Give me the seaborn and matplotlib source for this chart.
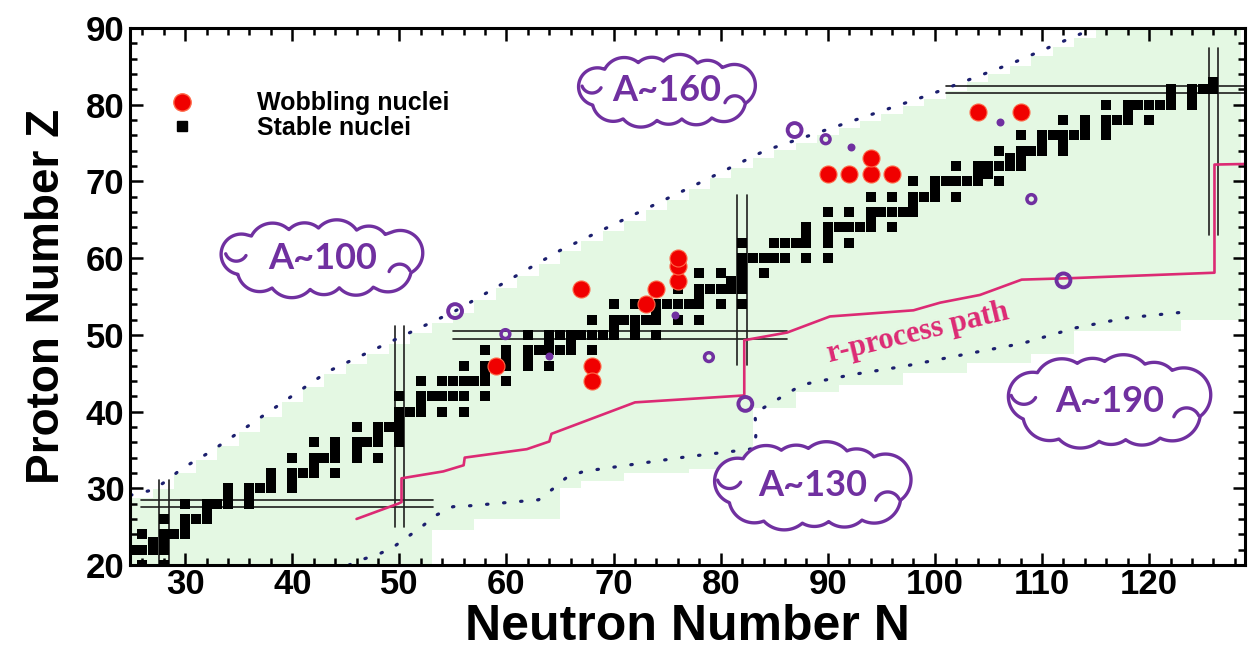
import numpy as np
import pandas as pd
import matplotlib
matplotlib.use("Agg")
import matplotlib.pyplot as plt
from matplotlib.lines import Line2D
from matplotlib.ticker import MultipleLocator
import seaborn as sns

# ---------------- data ----------------
# stable isotopes: proton number and the neutron numbers of its stable isotopes
stable_z = list(range(20, 84))
stable_n = [
    [20, 22, 23, 24, 26, 28], [24], [24, 25, 26, 27, 28], [27, 28], [26, 28, 29, 30],
    [30], [28, 30, 31, 32], [32], [30, 32, 33, 34, 36], [34, 36],
    [34, 36, 37, 38, 40], [38, 40], [38, 40, 41, 42, 44], [42], [40, 42, 43, 44, 46, 48],
    [44, 46], [42, 44, 46, 47, 48, 50], [48, 50], [46, 48, 49, 50], [50],
    [50, 51, 52, 54, 56], [52], [50, 52, 53, 54, 55, 56, 58], [], [52, 54, 55, 56, 57, 58, 60],
    [58], [56, 58, 59, 60, 62, 64], [60, 62], [58, 60, 62, 63, 64, 65, 66, 68], [64, 66],
    [62, 64, 65, 66, 67, 68, 69, 70, 72, 74], [70, 72], [68, 70, 71, 72, 73, 74, 76, 78], [74],
    [70, 72, 74, 75, 76, 77, 78, 80, 82], [78], [74, 76, 78, 79, 80, 81, 82], [81, 82],
    [78, 80, 82, 84], [82], [82, 83, 84, 85, 86, 88, 90], [], [82, 85, 86, 87, 88, 90, 92],
    [88, 90], [88, 90, 91, 92, 93, 94, 96], [94], [90, 92, 94, 95, 96, 97, 98], [98],
    [94, 96, 98, 99, 100, 102], [100], [98, 100, 101, 102, 103, 104, 106], [104, 105],
    [102, 104, 105, 106, 107, 108], [107, 108], [106, 108, 109, 110, 112], [110, 112],
    [108, 110, 111, 112, 113, 114, 116], [114, 116], [112, 114, 116, 117, 118, 120], [118],
    [116, 118, 119, 120, 121, 122, 124], [122, 124], [122, 124, 125, 126], [126],
]

wobbling_n = [59, 67, 68, 68, 73, 74, 76, 76, 76, 90, 92, 94, 94, 96, 104, 108]
wobbling_z = [46, 56, 46, 44, 54, 56, 57, 59, 60, 71, 71, 71, 73, 71, 79, 79]

ring_large_n = [55.2, 82.3, 86.9, 112.0]
ring_large_z = [53.1, 41.0, 76.7, 57.1]
ring_small_n = [59.9, 78.9, 89.8, 109.0]
ring_small_z = [50.1, 47.1, 75.5, 67.7]
dot_small_n = [64.0, 75.7, 92.2, 106.1]
dot_small_z = [47.3, 52.6, 74.5, 77.8]

rprocess_n = [46.0, 49.9, 50.2, 50.2, 54.1, 56.0, 56.1, 61.9, 64.0, 64.2, 72.0, 82.2,
              82.2, 86.2, 90.2, 98.0, 100.5, 104.2, 108.1, 112.9, 126.1, 126.1, 130.0]
rprocess_z = [26.0, 28.0, 28.2, 31.3, 32.2, 33.0, 34.0, 35.1, 36.1, 37.1, 41.2, 42.1,
              49.3, 50.3, 52.4, 53.2, 54.2, 55.2, 57.2, 57.4, 58.1, 72.2, 72.3]

upper_line_n = [24.9, 25.5, 27.0, 28.4, 29.7, 31.1, 32.5, 43.3, 55.2, 65.0, 78.3, 84.1,
                99.5, 107.2, 113.2, 114.9]
upper_line_z = [29.1, 29.3, 29.8, 31.1, 32.6, 33.7, 34.9, 45.2, 53.1, 61.0, 70.0, 74.0,
                81.3, 85.4, 89.0, 90.0]
lower_line_n = [45.3, 46.5, 48.2, 49.4, 50.8, 52.1, 53.3, 55.0, 56.4, 63.0, 64.4, 65.6,
                67.2, 76.8, 81.6, 83.2, 83.3, 83.2, 84.6, 87.6, 92.2, 97.1, 103.3, 108.2,
                113.1, 117.8, 124.2]
lower_line_z = [20.0, 20.7, 21.5, 22.3, 23.7, 25.0, 26.4, 27.6, 27.7, 28.5, 30.0, 31.4,
                32.2, 34.1, 34.9, 35.2, 37.4, 39.8, 41.0, 43.5, 44.8, 45.9, 47.6, 48.9,
                50.9, 52.2, 53.1]

# region of known nuclei (step edges in N, upper and lower Z bound of each step)
known_edges = [24] + list(range(27, 129, 2)) + [128.6]
known_top = [28.7, 29.9, 32.0, 33.7, 35.5, 37.4, 39.3, 41.3, 43.2, 44.9, 46.2, 47.5, 48.8,
             50.2, 51.5, 52.9, 54.5, 56.1, 57.7, 59.2, 60.9, 62.2, 63.6, 64.9, 66.3, 67.6,
             69.0, 70.4, 71.8, 73.1, 74.1, 75.0, 76.0, 76.9, 77.9, 78.8, 79.8, 80.8, 81.8,
             82.9, 84.0, 85.1, 86.3, 87.5, 88.7, 90, 90, 90, 90, 90, 90, 90]
known_bottom = [20] * 14 + [24.5, 24.5, 26, 26, 26, 26, 30, 31, 31, 32, 32, 32,
                            32.5, 32.5, 32.5, 40.5, 40.5, 42.5, 42.5, 43.5, 43.5, 43.5,
                            45, 45, 45, 46.3, 46.3, 46.3, 47.5, 47.5,
                            50.5, 50.5, 50.5, 50.5, 50.5, 52, 52, 52]

# magic numbers: double guide lines
magic_n = [28, 50, 82, 126]
magic_n_zlo = [20.0, 25.0, 46.1, 63.0]
magic_n_zhi = [31.1, 51.1, 68.2, 87.4]
magic_z = [28, 50, 82]
magic_z_nlo = [25.9, 55.0, 101.0]
magic_z_nhi = [53.1, 86.2, 130.0]

cloud_labels = ["A~100", "A~160", "A~130", "A~190"]
cloud_n = [42.8, 75.0, 88.6, 116.3]
cloud_z = [59.9, 81.8, 30.3, 41.3]
cloud_w = [215, 188, 208, 214]
cloud_h = [75, 70, 85, 90]

# ---------------- styling ----------------
sns.set_theme(style="white", rc={"axes.edgecolor": "black", "xtick.color": "black",
                                 "ytick.color": "black", "text.color": "black",
                                 "axes.labelcolor": "black"})
plt.rcParams["font.family"] = ["Liberation Sans", "DejaVu Sans"]

RED = "#f00000"
PURPLE = "#7030a0"
NAVY = "#1c1f6e"
RPATH = "#dc2a74"
GREEN = "#e4f8e3"

W, H, DPI = 12.51, 6.59, 100
fig = plt.figure(figsize=(W, H), dpi=DPI)
ax_rect = [130 / 1251, 94 / 659, 1115 / 1251, 537 / 659]
ax = fig.add_axes(ax_rect)
xmin, xmax, ymin, ymax = 24.85, 128.95, 20, 90
ax.set_xlim(xmin, xmax)
ax.set_ylim(ymin, ymax)
sx = W * DPI * ax_rect[2] / (xmax - xmin)   # pixels per neutron
sy = H * DPI * ax_rect[3] / (ymax - ymin)   # pixels per proton

# known-nuclei region
ax.fill_between(known_edges, known_bottom + [known_bottom[-1]], known_top + [known_top[-1]],
                step="post", color=GREEN, lw=0, zorder=0.5)

# double lines at magic numbers
for n, lo, hi in zip(magic_n, magic_n_zlo, magic_n_zhi):
    for off in (-0.45, 0.45):
        ax.plot([n + off, n + off], [lo, hi], color="#1e1e1e", lw=1.2, zorder=1)
for z, lo, hi in zip(magic_z, magic_z_nlo, magic_z_nhi):
    for off in (-0.5, 0.5):
        ax.plot([lo, hi], [z + off, z + off], color="#1e1e1e", lw=1.2, zorder=1)

# drip-line estimates (round dots)
for xs, ys in ((upper_line_n, upper_line_z), (lower_line_n, lower_line_z)):
    ax.plot(xs, ys, color=NAVY, lw=2.3, linestyle=(0, (0.45, 4.9)),
            dash_capstyle="round", zorder=1.5)

# r-process path
sns.lineplot(x=rprocess_n, y=rprocess_z, sort=False, estimator=None, color=RPATH,
             lw=1.9, ax=ax, zorder=2)
ax.text(98.4, 50.2, "r-process path", family=["Liberation Serif", "DejaVu Serif"],
        weight="bold", fontsize=22, color=RPATH, rotation=13.5,
        rotation_mode="anchor", ha="center", va="center", zorder=6)

# stable nuclei
stable_df = pd.DataFrame({
    "N": [n for ns in stable_n for n in ns],
    "Z": [z for z, ns in zip(stable_z, stable_n) for _ in ns],
})
sns.scatterplot(data=stable_df, x="N", y="Z", marker="s", s=60, color="black",
                linewidth=0, ax=ax, zorder=3, legend=False)

# wobbling nuclei
sns.scatterplot(x=wobbling_n, y=wobbling_z, marker="o", s=150, color=RED,
                edgecolor="#ff6848", linewidth=0.8, ax=ax, zorder=4, legend=False)

# purple markers
ax.scatter(ring_large_n, ring_large_z, s=100, facecolors="none", edgecolors=PURPLE,
           linewidths=2.8, zorder=5)
ax.scatter(ring_small_n, ring_small_z, s=40, facecolors="none", edgecolors=PURPLE,
           linewidths=2.5, zorder=5)
ax.scatter(dot_small_n, dot_small_z, s=33, color=PURPLE, linewidths=0, zorder=5)


# cloud call-outs
def cloud_outline(w, h, scales):
    rho = 0.3 * h
    A, B = w / 2 - rho, h / 2 - rho
    phi = np.linspace(0, 2 * np.pi, 2000)
    ex, ey = A * np.cos(phi), B * np.sin(phi)
    s = np.concatenate([[0], np.cumsum(np.hypot(np.diff(ex), np.diff(ey)))])
    k = len(scales)
    targets = (np.arange(k) + 0.3) * s[-1] / k
    cphi = np.interp(targets, s, phi)
    cx, cy = A * np.cos(cphi), B * np.sin(cphi)
    radii = rho * np.asarray(scales)
    t = np.linspace(0, 2 * np.pi, 1440)
    ux, uy = np.cos(t), np.sin(t)
    proj = ux[:, None] * cx[None, :] + uy[:, None] * cy[None, :]
    disc = proj ** 2 - (cx ** 2 + cy ** 2)[None, :] + radii[None, :] ** 2
    far = np.where(disc >= 0, proj + np.sqrt(np.clip(disc, 0, None)), -np.inf)
    r = far.max(axis=1)
    return r * ux, r * uy


bump_scales = [1.0, 0.9, 1.08, 0.95, 1.05, 0.9, 1.0, 1.1, 0.92, 1.0, 1.04]
for lab, cn, cz, w, h in zip(cloud_labels, cloud_n, cloud_z, cloud_w, cloud_h):
    px, py = cloud_outline(w, h, bump_scales)
    ax.fill(cn + px / sx, cz + py / sy, facecolor="white", edgecolor=PURPLE,
            lw=2.4, zorder=6, joinstyle="round")
    # small inner strokes of the cloud
    tt = np.linspace(np.radians(25), np.radians(160), 40)
    rr = 0.15 * h
    ax.plot(cn + (0.36 * w + rr * np.cos(tt)) / sx, cz + (-0.22 * h + rr * np.sin(tt)) / sy,
            color=PURPLE, lw=2.4, zorder=6.5, solid_capstyle="round")
    tt = np.linspace(np.radians(200), np.radians(330), 40)
    ax.plot(cn + (-0.40 * w + rr * np.cos(tt)) / sx, cz + (0.12 * h + rr * np.sin(tt)) / sy,
            color=PURPLE, lw=2.4, zorder=6.5, solid_capstyle="round")
    ax.text(cn, cz, lab, family=["Lato", "DejaVu Sans"], weight="bold", fontsize=26,
            color=PURPLE, ha="center", va="center", zorder=7)

# legend
handles = [
    Line2D([], [], marker="o", ls="none", color=RED, markeredgecolor="#ff6848",
           markersize=12.5, label="Wobbling nuclei"),
    Line2D([], [], marker="s", ls="none", color="black", markersize=7.2,
           label="Stable nuclei"),
]
ax.legend(handles=handles, loc="upper left", bbox_to_anchor=(0.0354, 0.882),
          frameon=False, borderpad=0, borderaxespad=0, handlelength=1.0,
          handletextpad=2.5, labelspacing=0.02,
          prop={"family": "Liberation Sans", "weight": "bold", "size": 18})

# axes, ticks, labels
ax.xaxis.set_minor_locator(MultipleLocator(2))
ax.yaxis.set_minor_locator(MultipleLocator(2))
ax.tick_params(which="both", direction="in", top=True, right=True, width=1.8,
               bottom=True, left=True)
ax.tick_params(which="major", length=9)
ax.tick_params(which="minor", length=5)
ax.tick_params(axis="x", which="major", pad=2)
ax.tick_params(axis="y", which="major", pad=4)
ax.set_xticks(range(30, 130, 10))
ax.set_xticklabels([str(v) for v in range(30, 130, 10)], fontweight="bold", fontsize=25)
ax.set_yticks(range(20, 100, 10))
ax.set_yticklabels([str(v) for v in range(20, 100, 10)], fontweight="bold", fontsize=25)
for sp in ax.spines.values():
    sp.set_linewidth(2.2)
    sp.set_color("black")
    sp.set_zorder(10)

ax.set_xlabel("Neutron Number N", fontsize=36, fontweight="bold", labelpad=2)
ax.set_ylabel("Proton Number Z", fontsize=33, fontweight="bold", labelpad=12)

fig.savefig("out.png", dpi=DPI)
